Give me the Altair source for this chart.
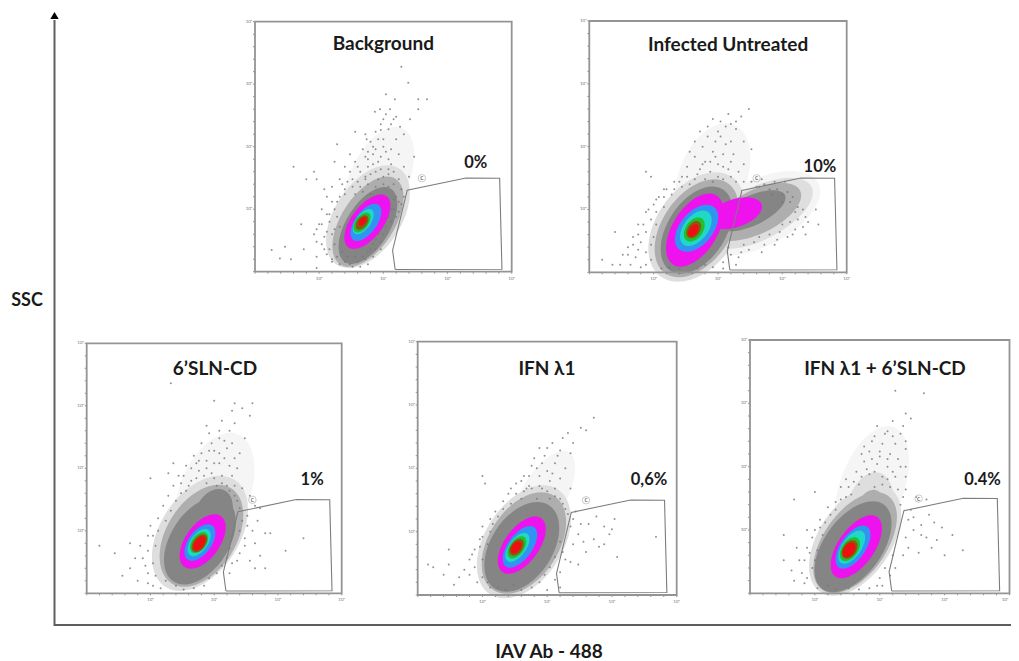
import altair as alt
import pandas as pd

panel_names = ["Background", "Infected Untreated", "6’SLN-CD", "IFN λ1", "IFN λ1 + 6’SLN-CD"]
panel_left = [255, 589.3, 86.7, 417.7, 750]
panel_right = [511.7, 846.7, 341.7, 676.7, 1009.5]
panel_top = [21.7, 21, 343.3, 341.7, 340]
panel_bottom = [271.7, 272.3, 593.3, 595, 593.3]
title_pos = [(50, 91), (53.9, 90.5), (50.3, 89.7), (49.9, 89.3), (52, 88.7)]
pct_labels = ["0%", "10%", "1%", "0,6%", "0.4%"]
pct_pos = [(86, 43.5), (89.6, 42), (88.4, 45.3), (89.3, 45.5), (89.6, 44.8)]

gate_x = [54.6, 53.6, 59.3, 82.2, 95.3, 96.2, 54.6]
gate_y = [0.9, 8.5, 32.6, 37.5, 37.4, 1.0, 0.9]
gate_tag = (65, 37.4)

tick_decades = [25, 50, 75, 100]
tick_text = ["10⁰", "10¹", "10²", "10³"]

C = {"pale": "#f5f5f5", "soft": "#dedede", "halo": "#aeaeae", "gray": "#858585", "mag": "#ee12ee", "blue": "#2f94f2",
     "cyan": "#1fd8c6", "green": "#22c02c", "dark": "#8a5a10", "red": "#ee1010"}
BACK = ("pale", "soft", "halo", "gray")

# colour key, centre x %, centre y %, long axis %, tilt, aspect
blobs = [
 [("pale",48,36,46,24,.5),("soft",44,22,45,33,.58),("halo",44,20,40,33,.52),("gray",44,18.5,34,32,.5),("mag",43.8,20,25,37,.5),("blue",43.2,19.7,17,36,.5),("cyan",42.2,20,11.5,36,.5),("green",41.7,19.7,9,36,.55),("dark",41.7,19.7,6.5,36,.6),("red",41.9,20.2,4,36,.6)],
 [("pale",48,38,44,22,.6),("pale",66,23.5,52,63,.5),("soft",41.7,18,48,36,.65),("soft",66,23.5,46,63,.45),("halo",41.7,17.5,43,35,.62),("halo",65,24,38,64,.45),("gray",41.7,16.8,38,33,.6),("gray",63,24.5,29,65,.4),("mag",41,16.8,32,32,.55),("mag",56.6,23.5,22,72,.5),("blue",41.7,17.5,21.5,40,.6),("cyan",41.4,17.5,16,38,.6),("green",40.8,17,10.5,35,.65),("dark",40.6,17,7.5,35,.65),("red",40.4,16.6,5.5,35,.6)],
 [("pale",50,40,50,22,.55),("soft",44.4,24,50,33,.62),("halo",45,23,44,32,.62),("gray",44.4,21,38,33,.6),("gray",49.7,32,20,25,.7),("mag",45.5,20.7,24.5,36,.55),("blue",44.4,20.3,16.5,36,.55),("cyan",44.1,20.3,12.3,36,.55),("green",44.1,20.3,9.3,36,.6),("dark",44.2,20,8,36,.6),("red",44.2,20,6.5,36,.55)],
 [("pale",48,38,42,30,.42),("soft",41,21,49,33,.62),("halo",41,20.5,44,33,.62),("gray",40.2,19,39,33,.62),("mag",40.2,19.7,26,36,.52),("blue",39.5,19,19,36,.5),("cyan",38.5,18.8,13.3,36,.5),("green",38.3,18.8,10,36,.55),("dark",38.2,18.8,7.5,36,.6),("red",38,18.8,5.5,36,.6)],
 [("pale",47,42,50,20,.5),("soft",46,33,30,15,.6),("soft",40.5,21,49,34,.58),("halo",40.5,20,45,35,.55),("halo",46,31,20,15,.6),("gray",39.7,18.4,41,36,.55),("mag",41,18.4,28.5,35,.5),("blue",39.7,18.2,19.5,35,.5),("cyan",39.2,18.2,15,35,.5),("green",38.5,17.4,10.5,35,.6),("dark",38.4,17.3,8,35,.65),("red",38.2,17.1,6.5,35,.65)],
]

dots = [
 # Background
 [(57,82),(59.7,75.6),(51,71),(54.5,69),(67,69),(63.6,69),(46.7,64),(48.7,65),(52.6,65),(63.6,65),(60.4,61),(55,62),(50,61),(53,59),(56.5,58),(49,56.7),(39,56),(43.5,53),(32,51),(48,53),(55,53),(58,55),(42,49),(46,50),(51,48),(56,47),(37,47),(62,46),(39,44),(44,45),(48,44),(53,43),(58,42),(35,42),(41,40),(47,40),(52,39),(56,37),(33,37),(38,37),(43,37),(60,38),(30,34),(35,33),(52,34),(57,33),(28,30),(32,28),(55,30),(57,27),(26,25),(29,23),(54,25),(52,22),(50,19),(25,19),(28,16),(48,15),(46,11),(24,12),(27,9),(44,8),(43,5),(30,5),(33,3),(38,2),(40,4),(23,40),(18,19),(6.5,8.7),(11.7,10),(9.7,5.3),(23,15),(19,9),(24,6),(14,5),(24,1.5),(15,42),(20,37),(24,37),(31,44),(27,33),
  (30,4),(32,6),(35,4),(37,3),(41,2),(44,3),(46,6),(34,8),(29,9),(31,11),(26,11),(42,6),(45,9),(47,9),(49,12),(27,14),(30,15),(24,17),(47,13),(50,15),(51,18),(26,19),(29,20),(28,23),(31,25),(53,20),(55,22),(56,24),(53,25),(30,28),(33,30),(35,31),(38,34),(41,34),(44,35),(47,34),(50,35),(54,35),(58,30),(40,36),(43,38),(45,39),(48,37),(50,38),(37,40),(40,42),(44,42),(46,43),(49,41),(52,41),(54,40),(43,46),(46,47),(49,46),(52,45),(47,49),(44,48),(50,50),(53,49),(45,52),(50,53),(43,55),(47,56),(52,57),(54,61),(49,59),(51,63),(36,36),(34,35),(39,31),(42,32),(45,31),(54,29),(56,28),(32,22),(33,18),(31,17),(49,9),(36,6),(39,6),(28,7)],
 # Infected Untreated
 [(62,65),(59,62),(55,59),(53,58),(57,57),(50,56),(46,54),(49,52),(53,51),(60,52),(44,50),(48,48),(52,47),(56,47),(41,46),(45,44),(50,43),(55,44),(60,43),(38,42),(43,41),(47,40),(58,40),(36,38),(41,37),(33,36),(65,34),(70,33),(75,31),(30,33),(27,30),(78,28),(25,27),(81,26),(22,24),(84,22),(19,19),(83,18),(80,17),(77,14),(17,14),(73,13),(15,10),(68,11),(13,7),(62,9),(18,6),(12,3),(58,6),(22,3),(57,3),(52,1.5),(28,1.5),(22,40),(24,38),(5,5),(9,3),(10,16),(89,19),(84,15),(88,25),(72,36),(76,36),(67,37),
  (16,3),(20,2),(24,5),(15,7),(19,9),(22,8),(17,11),(20,12),(24,11),(19,15),(22,16),(25,14),(21,19),(24,21),(26,19),(23,25),(26,24),(29,26),(26,29),(29,30),(32,31),(29,33),(33,33),(36,34),(39,35),(35,36),(38,38),(42,39),(45,37),(48,36),(50,38),(52,37),(55,38),(44,43),(47,44),(49,46),(52,42),(54,41),(57,36),(60,36),(63,36),(66,34),(68,35),(71,31),(73,33),(77,32),(79,30),(75,28),(80,24),(83,25),(85,20),(78,20),(81,21),(75,19),(79,15),(74,16),(70,15),(72,11),(66,14),(64,12),(60,11),(67,8),(59,8),(55,7),(54,10),(52,4),(48,2),(45,3),(42,1.5),(35,1.5),(31,2),(43,56),(46,58),(51,60),(48,61),(54,63),(57,60),(41,52),(39,48),(51,54),(55,52),(63,49)],
 # 6'SLN-CD
 [(33,84),(50,77),(58,76),(57,73),(65,76),(61,74),(64,71),(53,69),(47,67),(56,65),(62,62),(52,62),(45,60),(50,57),(55,58),(60,56),(58,54),(42,55),(47,53),(52,52),(56,51),(39,51),(44,49),(49,48),(53,47),(57,47),(36,47),(41,45),(47,44),(51,43),(55,43),(34,43),(39,41),(61,42),(58,39),(32,39),(64,39),(30,35),(60,34),(63,31),(28,30),(67,29),(25,27),(65,25),(24,23),(62,22),(21,19),(66,20),(19,14),(60,16),(23,11),(57,12),(17,10),(56,8),(20,5),(24,4),(29,2),(14,7),(5,19),(11,16),(17,20),(32,48),(34,52),(72,24),(85,22),(78,17),(64,13),(70,10),(25,46),
  (26,3),(31,5),(35,3),(38,1.5),(42,2),(46,3),(48,6),(51,8),(53,11),(27,7),(24,8),(22,14),(26,12),(24,17),(27,19),(26,23),(28,25),(31,29),(33,33),(35,37),(37,40),(40,43),(43,46),(46,47),(50,46),(53,44),(56,41),(58,43),(59,37),(61,29),(63,27),(60,25),(62,19),(59,13),(55,14),(56,18),(38,47),(41,50),(44,53),(47,50),(50,52),(54,54),(48,57),(52,56),(45,56),(49,60),(54,61),(57,60),(43,52),(37,44),(59,50),(52,65),(58,68),(48,64),(66,35),(68,34),(70,24),(68,15),(66,10)],
 # IFN λ1
 [(68,70),(65,65),(63,66),(58,64),(56,62),(52,60),(55,57),(59,56),(49,55),(53,52),(48,52),(44,51),(41,47),(47,47),(51,45),(55,46),(38,44),(43,43),(48,42),(53,42),(59,42),(25,47),(26,44),(35,40),(40,38),(46,38),(51,38),(33,37),(56,36),(30,33),(60,30),(28,30),(66,28),(72,27),(75,26),(25,27),(62,24),(68,22),(74,24),(70,19),(24,22),(22,18),(60,20),(65,17),(20,14),(57,14),(18,10),(55,9),(16,7),(53,6),(23,5),(28,3),(12,18),(12,12),(6,11),(4,12),(10,8),(14,4),(55,3),(50,2),(92,23),(77,15),
  (20,8),(22,11),(25,7),(27,5),(31,3),(34,2),(37,4),(40,2),(44,3),(47,5),(49,8),(51,11),(53,15),(21,16),(25,14),(24,19),(27,20),(25,23),(28,25),(29,28),(31,31),(33,34),(36,36),(38,40),(41,41),(44,42),(47,43),(50,41),(53,39),(55,38),(57,34),(58,32),(59,27),(55,21),(56,17),(61,33),(63,28),(64,21),(59,13),(62,12),(40,45),(43,47),(46,50),(50,49),(52,48),(57,50),(45,54),(50,58),(54,55),(47,58),(60,60),(42,42),(36,42),(69,31),(72,20),(76,30)],
 # IFN λ1 + 6'SLN-CD
 [(56,80),(67,79),(60,71),(62,69),(55,68),(49,66),(59,66),(53,64),(48,62),(60,60),(56,59),(50,56),(46,56),(54,55),(60,57),(44,52),(49,51),(53,50),(58,50),(41,48),(46,47),(51,46),(56,46),(60,46),(37,45),(42,43),(48,42),(54,42),(35,42),(39,39),(60,41),(64,38),(33,36),(68,37),(30,34),(58,35),(62,33),(27,29),(71,28),(25,25),(63,25),(68,22),(24,22),(22,18),(61,18),(55,15),(19,13),(52,10),(16,9),(50,6),(17,5),(21,4),(26,2),(13,23),(18,18),(13,13),(22,25),(25,40),(17,37),(74,26),(72,21),(78,23),(75,15),(82,17),(49,3),
  (20,8),(22,6),(24,10),(21,13),(25,13),(23,16),(26,17),(28,23),(27,26),(29,28),(31,31),(33,33),(35,37),(37,38),(38,42),(40,44),(43,46),(45,49),(48,48),(51,43),(53,45),(55,48),(43,55),(47,53),(50,54),(53,53),(57,53),(51,59),(55,62),(44,58),(47,60),(52,63),(58,63),(60,50),(57,41),(59,38),(61,29),(63,30),(60,22),(59,15),(56,10),(54,7),(51,3),(46,2),(42,1.5),(38,2),(33,1.5),(30,3),(66,27),(69,31),(70,18),(65,16),(66,23)],
]

xs = alt.Scale(domain=[8, 1011], nice=False, zero=False)
ys = alt.Scale(domain=[661, 8], nice=False, zero=False)
X = alt.X("x:Q", scale=xs, axis=None)
Y = alt.Y("y:Q", scale=ys, axis=None)


def fx(i, p):
    return panel_left[i] + (panel_right[i] - panel_left[i]) * p / 100


def fy(i, p):
    return panel_bottom[i] - (panel_bottom[i] - panel_top[i]) * p / 100


blob_rows, dot_rows, line_rows, tick_rows, label_rows, big_rows, small_rows, tag_rows = [], [], [], [], [], [], [], []
for i, name in enumerate(panel_names):
    for c, bx, by, ln, tilt, asp in blobs[i]:
        blob_rows.append(dict(x=fx(i, bx), y=fy(i, by), s=(ln * 2.55) ** 2, angle=tilt, aspect=str(asp),
                              color=C[c], front=c not in BACK))
    for dx, dy in dots[i]:
        dot_rows.append(dict(x=fx(i, dx), y=fy(i, dy)))
    for k, (a, b) in enumerate(zip([0, 100, 100, 0, 0], [0, 0, 100, 100, 0])):
        line_rows.append(dict(x=fx(i, a), y=fy(i, b), path=f"frame{i}", o=k, kind="frame"))
    for k, (a, b) in enumerate(zip(gate_x, gate_y)):
        line_rows.append(dict(x=fx(i, a), y=fy(i, b), path=f"gate{i}", o=k, kind="gate"))
    for t, lab in zip(tick_decades, tick_text):
        label_rows.append(dict(x=min(fx(i, t), 1005), y=panel_bottom[i] + 7, t=lab))
        label_rows.append(dict(x=panel_left[i] - 6, y=fy(i, t), t=lab))
    for t in range(0, 101, 5):
        tick_rows.append(dict(x=fx(i, t), x2=fx(i, t), y=panel_bottom[i], y2=panel_bottom[i] + 2))
        tick_rows.append(dict(x=panel_left[i] - 2, x2=panel_left[i], y=fy(i, t), y2=fy(i, t)))
    big_rows.append(dict(x=fx(i, title_pos[i][0]), y=fy(i, title_pos[i][1]), t=name))
    small_rows.append(dict(x=fx(i, pct_pos[i][0]), y=fy(i, pct_pos[i][1]), t=pct_labels[i]))
    tag_rows.append(dict(x=fx(i, gate_tag[0]), y=fy(i, gate_tag[1]), t="c"))

blob_df = pd.DataFrame(blob_rows)
aspects = sorted(blob_df.aspect.unique())
paths = [f"M 0 -1 A {a} 1 0 1 1 0 1 A {a} 1 0 1 1 0 -1 Z" for a in aspects]


def blob_layer(front):
    d = blob_df[blob_df.front == front].drop(columns="front")
    return alt.Chart(d).mark_point(filled=True, opacity=1, strokeWidth=0).encode(
        x=X, y=Y,
        size=alt.Size("s:Q", scale=None, legend=None),
        angle=alt.Angle("angle:Q", scale=None),
        shape=alt.Shape("aspect:N", scale=alt.Scale(domain=aspects, range=paths), legend=None),
        color=alt.Color("color:N", scale=None, legend=None),
    )


line_df = pd.DataFrame(line_rows)
lines = alt.Chart(line_df).mark_line(strokeJoin="miter").encode(
    x=X, y=Y, detail="path:N", order="o:Q",
    stroke=alt.Color("kind:N", scale=alt.Scale(domain=["frame", "gate"], range=["#949494", "#7d7d7d"]), legend=None),
    strokeWidth=alt.StrokeWidth("kind:N", scale=alt.Scale(domain=["frame", "gate"], range=[1.8, 1.1]), legend=None),
)
dots_layer = alt.Chart(pd.DataFrame(dot_rows)).mark_circle(size=4, color="#777777", opacity=0.8).encode(x=X, y=Y)
ticks = alt.Chart(pd.DataFrame(tick_rows)).mark_rule(color="#666666", strokeWidth=0.7).encode(
    x=X, y=Y, x2="x2:Q", y2="y2:Q")
tick_labels = alt.Chart(pd.DataFrame(label_rows)).mark_text(fontSize=4.5, color="#777777", font="Lato").encode(x=X, y=Y, text="t:N")
big_text = alt.Chart(pd.DataFrame(big_rows)).mark_text(fontSize=19, fontWeight="bold", font="Lato", color="#1a1a1a").encode(x=X, y=Y, text="t:N")
small_text = alt.Chart(pd.DataFrame(small_rows)).mark_text(fontSize=16.5, fontWeight="bold", font="Lato", color="#1a1a1a").encode(x=X, y=Y, text="t:N")
tag_ring = alt.Chart(pd.DataFrame(tag_rows)).mark_point(size=55, filled=False, color="#bdbdbd", strokeWidth=0.8, opacity=1).encode(x=X, y=Y)
tag_text = alt.Chart(pd.DataFrame(tag_rows)).mark_text(fontSize=7, font="Lato", color="#555555").encode(x=X, y=Y, text="t:N")

axis_df = pd.DataFrame({"x": [54.5, 54.5, 1011], "y": [20, 625, 625], "o": [0, 1, 2]})
axes_line = alt.Chart(axis_df).mark_line(color="#5e5e5e", strokeWidth=2).encode(x=X, y=Y, order="o:Q")
arrow = alt.Chart(pd.DataFrame({"x": [54.5], "y": [15.5]})).mark_point(shape="triangle-up", filled=True, size=70, color="#000000", opacity=1).encode(x=X, y=Y)
axis_titles = alt.Chart(pd.DataFrame({"x": [27, 549], "y": [301, 652], "t": ["SSC", "IAV Ab - 488"], "f": [18, 19]})).mark_text(
    fontWeight="bold", font="Lato", color="#1a1a1a").encode(x=X, y=Y, text="t:N", size=alt.Size("f:Q", scale=None, legend=None))

chart = alt.layer(
    blob_layer(False), dots_layer, blob_layer(True), ticks, lines, tick_labels,
    tag_ring, tag_text, big_text, small_text, axes_line, arrow, axis_titles,
).properties(width=1003, height=653, padding=0, autosize=alt.AutoSizeParams(type="none")).configure_view(stroke=None)

chart.save("out.html", embed_options={"renderer": "svg", "actions": False})
